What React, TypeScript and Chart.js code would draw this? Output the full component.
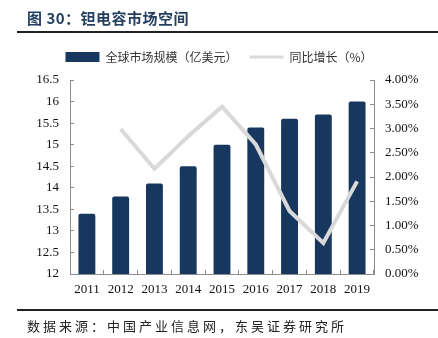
import React, { useEffect, useRef } from 'react';
import { Chart, registerables } from 'chart.js';

Chart.register(...registerables);

const years = ['2011', '2012', '2013', '2014', '2015', '2016', '2017', '2018', '2019'];
const marketSize = [13.4, 13.8, 14.1, 14.5, 15.0, 15.4, 15.6, 15.7, 16.0];
const yoyGrowth = [null, 0.0299, 0.0217, 0.0284, 0.0345, 0.0267, 0.013, 0.0064, 0.0191];
const leftAxis = { min: 12, max: 16.5, step: 0.5 };
const rightAxis = { min: 0, max: 0.04, step: 0.005 };
const seriesNames = ['全球市场规模（亿美元）', '同比增长（%）'];

const barColor = '#17375e';
const lineColor = '#d9d9d9';
const axisColor = '#8c8c8c';
const tickFont = { family: '"Liberation Serif", "Times New Roman", serif', size: 13 };
const cjkFamily = '"Noto Sans CJK SC", "Noto Sans", sans-serif';

const legendSpacer = {
  id: 'legendSpacer',
  beforeInit(chart: any) {
    const legend = chart.legend;
    if (!legend) return;
    const origFit = legend.fit;
    legend.fit = function () {
      origFit.bind(legend)();
      this.height += 7;
    };
  },
};

export default function App() {
  const ref = useRef<HTMLCanvasElement | null>(null);

  useEffect(() => {
    document.body.style.margin = '0';
    const canvas = ref.current;
    if (!canvas) return;
    const chart = new Chart(canvas, {
      type: 'bar',
      data: {
        labels: years,
        datasets: [
          {
            type: 'bar',
            label: seriesNames[0],
            data: marketSize,
            backgroundColor: barColor,
            borderRadius: 2,
            categoryPercentage: 1,
            barPercentage: 0.5,
            yAxisID: 'y',
            order: 1,
          } as any,
          {
            type: 'line',
            label: seriesNames[1],
            data: yoyGrowth,
            borderColor: lineColor,
            backgroundColor: lineColor,
            borderWidth: 4,
            pointRadius: 0,
            tension: 0,
            yAxisID: 'y1',
            order: 0,
          } as any,
        ],
      },
      options: {
        responsive: false,
        animation: false,
        devicePixelRatio: 1,
        layout: { padding: { top: 39, bottom: 36, left: 0, right: 0 } },
        plugins: {
          tooltip: { enabled: false },
          title: { display: false },
          legend: {
            display: true,
            position: 'top',
            labels: {
              usePointStyle: true,
              pointStyleWidth: 34,
              boxHeight: 10,
              padding: 12,
              color: '#333333',
              font: { family: cjkFamily, size: 12 },
              generateLabels: (c: any) => {
                const base = (Chart as any).defaults.plugins.legend.labels.generateLabels(c);
                return base
                  .sort((a: any, b: any) => a.datasetIndex - b.datasetIndex)
                  .map((l: any) =>
                    l.datasetIndex === 0
                      ? { ...l, pointStyle: 'rect', lineWidth: 0, fillStyle: barColor, strokeStyle: barColor }
                      : { ...l, pointStyle: 'line', lineWidth: 3, fillStyle: lineColor, strokeStyle: lineColor }
                  );
              },
            },
          },
        },
        scales: {
          x: {
            grid: { display: true, drawOnChartArea: false, tickLength: -4, color: axisColor, offset: true },
            border: { display: true, color: axisColor, width: 1 },
            ticks: { font: tickFont, color: '#111111', padding: 12, maxRotation: 0 },
            afterFit: (s: any) => {
              s.height = 28;
            },
          },
          y: {
            position: 'left',
            min: leftAxis.min,
            max: leftAxis.max,
            grid: { display: true, drawOnChartArea: false, tickLength: -4, color: axisColor },
            border: { display: true, color: axisColor, width: 1 },
            ticks: {
              stepSize: leftAxis.step,
              font: tickFont,
              color: '#111111',
              padding: 15,
              callback: (v: any) => String(Math.round(Number(v) * 10) / 10),
            },
            afterFit: (s: any) => {
              s.width = 70;
            },
          },
          y1: {
            position: 'right',
            min: rightAxis.min,
            max: rightAxis.max,
            grid: { display: true, drawOnChartArea: false, tickLength: -4, color: axisColor },
            border: { display: true, color: axisColor, width: 1 },
            ticks: {
              stepSize: rightAxis.step,
              font: tickFont,
              color: '#111111',
              padding: 15,
              callback: (v: any) => (Number(v) * 100).toFixed(2) + '%',
            },
            afterFit: (s: any) => {
              s.width = 64;
            },
          },
        },
      },
      plugins: [legendSpacer],
    });
    return () => chart.destroy();
  }, []);

  return (
    <div
      style={{
        position: 'fixed',
        left: 0,
        top: 0,
        width: 438,
        height: 338,
        background: '#ffffff',
        overflow: 'hidden',
      }}
    >
      <canvas ref={ref} width={438} height={338} style={{ position: 'absolute', left: 0, top: 0, width: 438, height: 338 }} />
      <div
        style={{
          position: 'absolute',
          left: 27,
          top: 8,
          fontFamily: cjkFamily,
          fontWeight: 700,
          fontSize: 15,
          letterSpacing: 0.5,
          color: '#243f60',
          lineHeight: '20px',
          whiteSpace: 'nowrap',
        }}
      >
        图 30：钽电容市场空间
      </div>
      <div style={{ position: 'absolute', left: 17, top: 31, width: 421, height: 2, background: '#222222' }} />
      <div style={{ position: 'absolute', left: 17, top: 309, width: 421, height: 2, background: '#222222' }} />
      <div
        style={{
          position: 'absolute',
          left: 27,
          top: 317,
          fontFamily: cjkFamily,
          fontSize: 13,
          letterSpacing: 3,
          color: '#222222',
          lineHeight: '18px',
          whiteSpace: 'nowrap',
        }}
      >
        数据来源：中国产业信息网，东吴证券研究所
      </div>
    </div>
  );
}
